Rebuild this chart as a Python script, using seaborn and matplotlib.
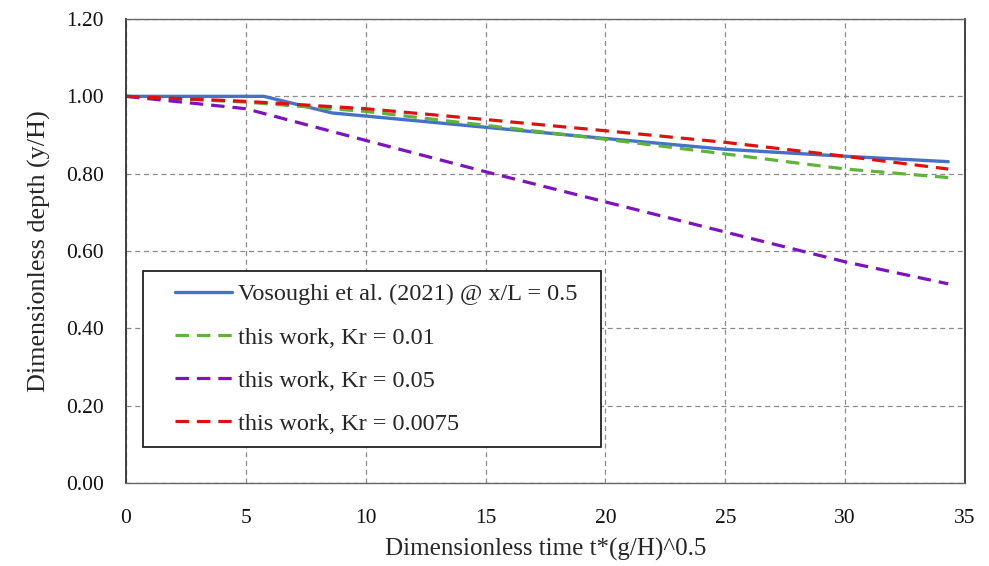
import matplotlib
matplotlib.use("Agg")
import matplotlib.pyplot as plt
import seaborn as sns
import pandas as pd

# ---- data ----
x_vos = [0, 5.75, 8.6, 10, 15, 20, 25, 30, 34.3]
y_vos = [1.0, 1.0, 0.957, 0.949, 0.920, 0.891, 0.863, 0.845, 0.831]

x_work = [0, 5, 10, 15, 20, 25, 30, 34.3]
y_kr001 = [1.0, 0.985, 0.961, 0.925, 0.889, 0.851, 0.812, 0.790]
y_kr005 = [1.0, 0.968, 0.886, 0.805, 0.727, 0.649, 0.572, 0.515]
y_kr00075 = [1.0, 0.987, 0.968, 0.940, 0.911, 0.881, 0.845, 0.812]

labels = ["Vosoughi et al. (2021) @ x/L = 0.5",
          "this work, Kr = 0.01",
          "this work, Kr = 0.05",
          "this work, Kr = 0.0075"]

x_ticks = [0, 5, 10, 15, 20, 25, 30, 35]
y_ticks = [0.0, 0.2, 0.4, 0.6, 0.8, 1.0, 1.2]

sns.set_theme(style="white")
plt.rcParams["font.family"] = ["Liberation Serif", "DejaVu Serif"]

fig = plt.figure(figsize=(9.89, 5.66), dpi=100)
ax = fig.add_axes([126 / 989, 1 - 483 / 566, (965 - 126) / 989, (483 - 19) / 566])

dash = (4.2, 2.5)
sns.lineplot(x=x_vos, y=y_vos, ax=ax, color="#4472C4", lw=2.4, label=labels[0])
sns.lineplot(x=x_work, y=y_kr001, ax=ax, color="#5CB43A", lw=2.3, label=labels[1])
sns.lineplot(x=x_work, y=y_kr005, ax=ax, color="#7E12BE", lw=2.3, label=labels[2])
sns.lineplot(x=x_work, y=y_kr00075, ax=ax, color="#E01010", lw=2.3, label=labels[3])
for ln in ax.lines[1:4]:
    ln.set_dashes(dash)

ax.set_xlim(0, 35)
ax.set_ylim(0, 1.2)
ax.set_xticks(x_ticks)
ax.set_yticks(y_ticks)
ax.set_xticklabels([str(v) for v in x_ticks])
ax.set_yticklabels([f"{v:.2f}" for v in y_ticks])
ax.tick_params(axis="both", labelsize=15.5, length=0, colors="#111111")
ax.tick_params(axis="x", pad=19)
ax.tick_params(axis="y", pad=16)

ax.grid(True, color="#8a8a8a", lw=0.9, linestyle=(0, (4, 3)))
ax.set_axisbelow(True)

for side in ["left", "right"]:
    ax.spines[side].set_color("#333333")
    ax.spines[side].set_linewidth(1.3)
for side in ["top", "bottom"]:
    ax.spines[side].set_color("#666666")
    ax.spines[side].set_linewidth(1.0)

ax.set_xlabel("Dimensionless time t*(g/H)^0.5", fontsize=18, labelpad=7)
ax.set_ylabel("Dimensionless depth (y/H)", fontsize=18.8, labelpad=11)

fs = 17.5
hl = 3.17
leg = ax.legend(loc="lower left", bbox_to_anchor=(17 / 839, 36 / 464, 458 / 839, 0.3),
                mode="expand", fontsize=fs, frameon=True, fancybox=False,
                handlelength=hl, handletextpad=0.25, labelspacing=0.87,
                borderpad=0.5, borderaxespad=0)
leg.get_frame().set_edgecolor("#222222")
leg.get_frame().set_linewidth(1.3)
leg.get_frame().set_alpha(1)
for i, h in enumerate(leg.get_lines()):
    xd = list(h.get_xdata())
    full = xd[-1] - xd[0]
    h.set_xdata([xd[0] + full * 0.26, xd[-1]])
    h.set_ydata(list(h.get_ydata())[:1] * 2)
    if i > 0:
        h.set_dashes(dash)

fig.savefig("out.png", dpi=100, facecolor="white")
